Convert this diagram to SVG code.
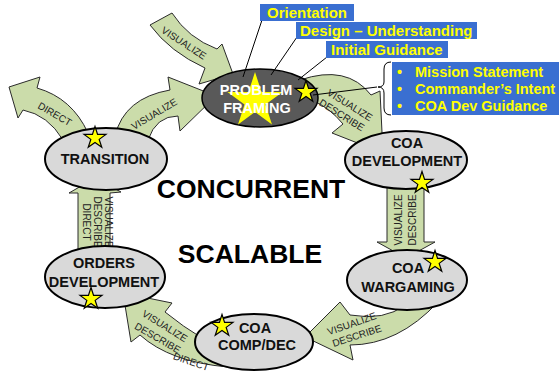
<svg xmlns="http://www.w3.org/2000/svg" xmlns:xlink="http://www.w3.org/1999/xlink" width="559" height="372" viewBox="0 0 559 372">
<style>
.arrow{fill:#cbdcaa;stroke:#2a2a2a;stroke-width:1;stroke-linejoin:miter}
.alab{font-family:"Liberation Sans",Arial,sans-serif;font-size:10px;fill:#222;text-anchor:middle}
.node{fill:#d9d9d9;stroke:#000;stroke-width:2}
.ntxt{font-family:"Liberation Sans",Arial,sans-serif;font-size:14.5px;font-weight:bold;fill:#111;text-anchor:middle}
.big{font-family:"Liberation Sans",Arial,sans-serif;font-size:26.5px;font-weight:bold;fill:#000;text-anchor:middle}
.box{fill:#3a6fd1}
.btxt{font-family:"Liberation Sans",Arial,sans-serif;font-size:15px;font-weight:bold;fill:#ffff00}
.ln{stroke:#000;stroke-width:1;fill:none}
.star{fill:#ffff00;stroke:#000;stroke-width:1.2;stroke-linejoin:miter}
</style>
<defs>
<polygon id="star" points="0,-11.5 2.58,-3.55 10.94,-3.55 4.18,1.36 6.76,9.3 0,4.39 -6.76,9.3 -4.18,1.36 -10.94,-3.55 -2.58,-3.55"/>
</defs>
<rect width="559" height="372" fill="#fff"/>

<g id="connectors">
  <!-- visualize into problem framing from top-left -->
  <path class="arrow" d="M150,25 L172,13 Q188,38 217,49 L222,44 L233,74 L199,84 L205,68 Q170,52 150,25 Z"/>
  <text class="alab" transform="translate(182,46) rotate(33)">VISUALIZE</text>
  <!-- transition -> problem framing -->
  <path class="arrow" d="M115,136 Q124,98 170,90 L168,77 L216,96 L180,131 L178,116 Q156,116 148,140 Z"/>
  <text class="alab" transform="translate(156,117) rotate(-31)">VISUALIZE</text>
  <!-- transition direct up-left -->
  <path class="arrow" d="M88,133 Q72,98 37,88 L40,77 L9,87 L18,118 L23,110 Q48,115 63,140 Z"/>
  <text class="alab" transform="translate(53,117) rotate(30)">DIRECT</text>
  <!-- problem framing -> coa development -->
  <path class="arrow" d="M300,80 Q347,64 371,95 L380,91 L383,153 L332,133 L343,124 Q330,108 312,100 Z"/>
  <text class="alab" transform="translate(348,108) rotate(32)">VISUALIZE</text>
  <text class="alab" transform="translate(340,118) rotate(32)">DESCRIBE</text>
  <!-- coa development -> wargaming -->
  <path class="arrow" d="M387,185 L424,185 L424,242 L435,242 L406,258 L377,242 L387,242 Z"/>
  <text class="alab" transform="translate(401.6,220) rotate(-90)">VISUALIZE</text>
  <text class="alab" transform="translate(416,220) rotate(-90)">DESCRIBE</text>
  <!-- wargaming -> comp/dec -->
  <path class="arrow" d="M405,305 Q385,321 350,315 L340,302 L305,337 L353,360 L350,345 Q398,345 438,302 Z"/>
  <text class="alab" transform="translate(353,327) rotate(-19)">VISUALIZE</text>
  <text class="alab" transform="translate(358,339) rotate(-18)">DESCRIBE</text>
  <!-- comp/dec -> orders development -->
  <path class="arrow" d="M205,340 Q182,326 165,312 L172,303 L123,293 L131,342 L140,335 Q170,362 228,367 Z"/>
  <text class="alab" transform="translate(163,329) rotate(32)">VISUALIZE</text>
  <text class="alab" transform="translate(156,341) rotate(30)">DESCRIBE</text>
  <text class="alab" transform="translate(190,365) rotate(19)">DIRECT</text>
  <!-- orders development -> transition -->
  <path class="arrow" d="M78,255 L78,193 L69,193 L95,178 L121,192 L110,193 L110,255 Z"/>
  <text class="alab" transform="translate(105.4,222) rotate(90)">VISUALIZE</text>
  <text class="alab" transform="translate(94.4,222) rotate(90)">DESCRIBE</text>
  <text class="alab" transform="translate(83.4,222) rotate(90)">DIRECT</text>
</g>

<g id="problem-framing">
  <ellipse cx="260" cy="98" rx="58" ry="29" fill="#595959" stroke="#000" stroke-width="1.5"/>
  <polygon fill="#ffff00" points="255,72 261.5,92 282.6,92 265.5,104.4 272,124.5 255,112.1 238,124.5 244.5,104.4 227.4,92 248.5,92"/>
  <text class="ntxt" x="256" y="95" fill="#fff" style="fill:#fff">PROBLEM</text>
  <text class="ntxt" x="257" y="113" style="fill:#fff">FRAMING</text>
</g>

<g id="transition">
  <ellipse class="node" cx="106" cy="159" rx="61" ry="31"/>
  <text class="ntxt" x="105" y="164">TRANSITION</text>
  <use href="#star" class="star" x="95" y="138"/>
</g>

<g id="coa-development">
  <ellipse class="node" cx="406" cy="160" rx="61" ry="29"/>
  <text class="ntxt" x="407" y="148">COA</text>
  <text class="ntxt" x="407" y="166">DEVELOPMENT</text>
  <use href="#star" class="star" x="422" y="183"/>
</g>

<g id="coa-wargaming">
  <ellipse class="node" cx="407" cy="280" rx="60" ry="30"/>
  <text class="ntxt" x="408" y="273">COA</text>
  <text class="ntxt" x="408" y="292">WARGAMING</text>
  <use href="#star" class="star" x="435" y="262"/>
</g>

<g id="coa-comp-dec">
  <ellipse class="node" cx="254" cy="342" rx="59" ry="28"/>
  <text class="ntxt" x="255" y="333">COA</text>
  <text class="ntxt" x="257" y="350">COMP/DEC</text>
  <use href="#star" class="star" x="222" y="326"/>
</g>

<g id="orders-development">
  <ellipse class="node" cx="105" cy="277" rx="60" ry="31"/>
  <text class="ntxt" x="104" y="268">ORDERS</text>
  <text class="ntxt" x="104" y="287">DEVELOPMENT</text>
  <use href="#star" class="star" x="91" y="299"/>
</g>

<g id="center-text">
  <text class="big" x="251" y="198">CONCURRENT</text>
  <text class="big" x="250" y="263">SCALABLE</text>
</g>

<g id="callouts">
  <line class="ln" x1="262" y1="20" x2="243" y2="77"/>
  <line class="ln" x1="297" y1="37" x2="271" y2="75"/>
  <line class="ln" x1="327" y1="57" x2="298" y2="80"/>
  <line class="ln" x1="313" y1="95" x2="377" y2="87"/>
  <use href="#star" class="star" x="306" y="92"/>
  <rect class="box" x="260" y="4" width="94" height="17"/>
  <text class="btxt" x="267" y="18">Orientation</text>
  <rect class="box" x="296" y="22" width="181" height="17"/>
  <text class="btxt" x="300" y="36">Design – Understanding</text>
  <rect class="box" x="326" y="41" width="122" height="17"/>
  <text class="btxt" x="331" y="55">Initial Guidance</text>
  <path class="ln" d="M391,62 Q384,62 384,69 L384,82 Q384,87 378,87 Q384,87 384,93 L384,108 Q384,115 391,115"/>
  <rect class="box" x="392" y="62" width="167" height="53"/>
  <text class="btxt" x="397" y="77" style="font-size:14.5px">•</text>
  <text class="btxt" x="415" y="77" style="font-size:14.5px">Mission Statement</text>
  <text class="btxt" x="397" y="94" style="font-size:14.5px">•</text>
  <text class="btxt" x="415" y="94" style="font-size:14.5px">Commander’s Intent</text>
  <text class="btxt" x="397" y="111" style="font-size:14.5px">•</text>
  <text class="btxt" x="415" y="111" style="font-size:14.5px">COA Dev Guidance</text>
</g>
</svg>
